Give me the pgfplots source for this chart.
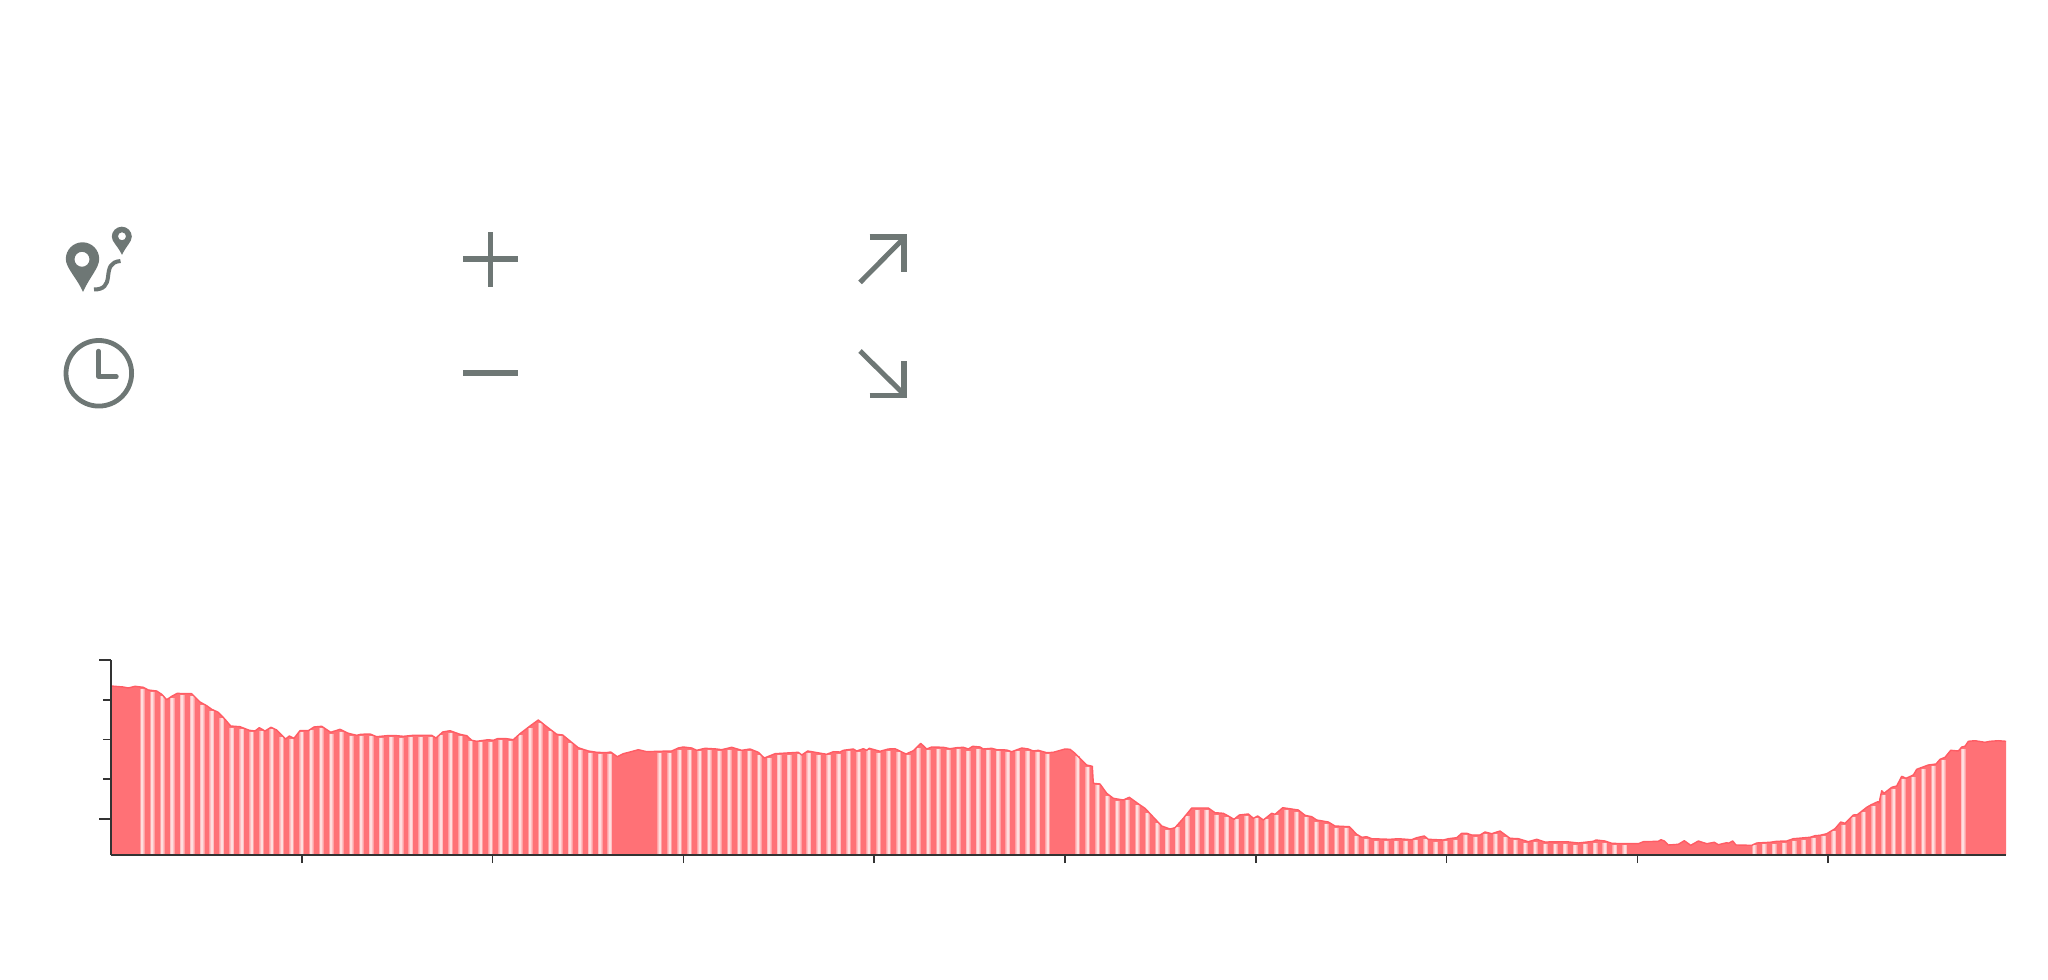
\documentclass[border=0pt]{standalone}
\usepackage{pgfplots}
\usepackage{pgfplotstable}
\pgfplotsset{compat=1.18}
\definecolor{areared}{HTML}{FF7176}
\definecolor{linered}{HTML}{FF5C64}
\definecolor{stripeout}{HTML}{FFA2A5}
\definecolor{stripemid}{HTML}{FFC0C2}
\definecolor{stripein}{HTML}{FFDEDE}
\definecolor{icongrey}{HTML}{6E7775}
\definecolor{axisdark}{HTML}{333333}
\pgfplotstableread{
x h
0 169
12.3 168
17.3 167
24 168.7
32.3 167.7
37.3 165
45.7 164
50.7 160.7
55.7 155.3
60.7 158.7
66.3 161.7
72.3 161.3
80.7 161.3
89 153
95.7 149.3
100.7 145.7
107.3 142.7
114 135.7
119.7 129
129 128.3
138.3 124.7
144 124
148.3 127.3
154 124
160 127.7
165.7 125
174.7 116
178.3 119
183 116.7
189 124.3
197.3 124.3
203 128
210.7 128.7
219.7 122.7
229 125.7
237.3 121.7
245.7 119.7
249.7 120.7
259 121
265.7 118.3
275.7 119.3
285.7 119.3
292.3 118.7
302.3 119.7
320.7 119.7
325 117
331.7 123
339 124.3
349 120.7
355.7 119.3
360.7 114.7
365.7 113.7
377.3 115.3
382.3 114.7
386.3 116.3
395.7 116.3
402.3 115.3
409 121.3
419 129
427.3 135
435.7 128.3
445.7 120.7
451.7 120
459 114
467.3 107.3
477.3 104
485.7 102.7
495 102.3
499.7 103
506.3 98.3
512.3 101.3
519 103
527.3 105.3
535.7 103.3
547.3 103.7
560.7 104
567.3 107
572.3 108
580.7 107
585.7 104.7
594 106.7
605.7 106
610.7 105.3
620.7 107.7
630.7 104.7
639 106
647.3 102.7
653.3 97
664 101.3
687.3 102.7
690.7 100
696.7 104
715.7 100.7
722.3 103.3
729 103
732.3 104.7
742.3 106
745.7 104
752.3 106.3
755.7 104.7
758.3 106.7
769 103.7
777.3 106
784 106.3
795 101
802.3 104.3
809.7 111.7
815.7 106
820.7 108
832.3 107.7
839 106.3
845.7 107.3
852.3 107.7
857.3 106
861.7 108.7
869 108
872.3 106
880.7 106.7
885.7 105.3
895.7 105
900.7 103.3
910.7 107
917.3 106
922.3 104
927.3 104.7
935.7 102.3
942.3 102.7
954 106
959 105.7
964 101.7
975.7 90
981.3 88.7
982.3 71.7
989 71
995.7 61.7
1002.3 56.7
1012.3 55
1018.3 57.7
1029 50
1034 46.7
1050.7 29
1059 26
1064 27.3
1072.3 36.7
1080.7 47
1097.3 47
1104 42.3
1112.3 41.7
1117.3 39
1123 35.7
1128.3 40
1137.3 41
1142.3 36.7
1146.7 39
1152.3 35
1160.7 41.7
1164 40.7
1171.7 47.3
1187.3 45
1194 39.7
1200.7 38.3
1205.7 35
1217.3 33
1224 29
1238.3 28.3
1245.7 20.7
1250.7 17.7
1255.7 18.3
1260.7 16.3
1279 15.7
1287.3 16.3
1300.7 15.3
1305.7 17.3
1313.3 19
1317.3 15.7
1332.3 15
1337.3 16.3
1345.7 17.3
1350.7 21.7
1355.7 21.7
1360.7 20
1369 20
1374 23
1380.7 21.3
1389 24
1399 16.7
1407.3 16.3
1417.3 13.3
1425.7 15.7
1434 13
1455.7 13.3
1467.3 12
1482.3 13.7
1485 15
1494 14
1500.7 11.7
1512.3 11.3
1527.3 11.3
1532.3 13.3
1547.3 13.7
1550 15.3
1553.3 14
1557.3 10
1567.3 10.7
1573.3 14.3
1579.7 9.7
1587.3 14
1595.7 11.3
1603.3 12.7
1607.3 10.3
1615.7 12.3
1617.3 11.7
1621.7 14
1625 10
1640.7 9.7
1645.7 12
1659 12.7
1665.7 13.7
1675.7 14
1682.3 16.3
1699 17.7
1704 19.3
1709 19.7
1715.7 21.3
1724 26.3
1729.7 33
1734 31.7
1742.3 40
1746.3 40.3
1755.7 47.7
1759.7 50
1766.7 53.3
1768 52
1770.7 64.3
1773 61.7
1780.7 67.7
1785.7 69
1790.7 78.7
1795 76.7
1802.3 80
1805.7 85.7
1817.3 90
1825 91
1829 95.7
1834 97.7
1839.7 104.7
1847.3 104
1850.7 108
1854 108.7
1857.3 113.7
1864 114.3
1874 112.7
1879 113.7
1887.3 114.3
1895 113.7
}\outline
\pgfplotstableread{
x h
31.3 165.5
41.25 162.5
51.2 158.5
61.15 157
71.1 159.5
81.05 159
91 150
100.95 143.5
110.9 137
120.85 127
130.8 125.5
140.75 122.5
150.7 124
160.65 125.5
170.6 118
180.55 116
190.5 122.5
200.45 124.5
210.4 126.5
220.35 121
230.3 123
240.25 119
250.2 119
260.15 118.5
270.1 117
280.05 117.5
290 117
299.95 117.5
309.9 117.5
319.85 117.5
329.8 119.5
339.75 122
349.7 118.5
359.65 113.5
369.6 112.5
379.55 113
389.5 114.5
399.45 113.5
409.4 119.5
419.35 127
429.3 131.5
439.25 123.5
449.2 118.5
459.15 112
469.1 104.5
479.05 101.5
489 100.5
498.95 100.5
548.7 102
558.65 102
568.6 105
578.55 105
588.5 103.5
598.45 104.5
608.4 103.5
618.35 105
628.3 103.5
638.25 104
648.2 100
658.15 97
668.1 99.5
678.05 100
688 100.5
697.95 102
707.9 100
717.85 99.5
727.8 101
737.75 103.5
747.7 103
757.65 104.5
767.6 102
777.55 104
787.5 102.5
797.45 100
807.4 107
817.35 104.5
827.3 106
837.25 105
847.2 105.5
857.15 104
867.1 106
877.05 104.5
887 103.5
896.95 102.5
906.9 103.5
916.85 104
926.8 102.5
936.75 100.5
966.6 98.5
976.55 88
986.5 69.5
996.45 59
1006.4 54
1016.35 55
1026.3 50
1036.25 42
1046.2 32
1056.15 25
1066.1 27.5
1076.05 39
1086 45
1095.95 45
1105.9 40
1115.85 38
1125.8 36
1135.75 39
1145.7 36.5
1155.65 35.5
1165.6 40
1175.55 44.5
1185.5 43
1195.45 37.5
1205.4 33
1215.35 31
1225.3 27
1235.25 26.5
1245.2 19
1255.15 16
1265.1 14
1275.05 14
1285 14
1294.95 13.5
1304.9 15
1314.85 15.5
1324.8 13
1334.75 13.5
1344.7 15
1354.65 19.5
1364.6 18
1374.55 20.5
1384.5 20.5
1394.45 18
1404.4 14.5
1414.35 12
1424.3 13
1434.25 11
1444.2 11
1454.15 11
1464.1 10
1474.05 10.5
1484 12
1493.95 12
1503.9 9.5
1513.85 9.5
1643.2 10
1653.15 10.5
1663.1 11
1673.05 12
1683 14
1692.95 15
1702.9 17
1712.85 18.5
1722.8 23.5
1732.75 30
1742.7 38
1752.65 43
1762.6 49
1772.55 60
1782.5 66
1792.45 76
1802.4 78
1812.35 86
1822.3 88.5
1832.25 95
1852.15 106
}\stripes
\begin{document}
\begin{tikzpicture}[x=1pt,y=1pt]
\useasboundingbox (0,0) rectangle (1024,489.5);
\begin{axis}[
  at={(55.5pt,62pt)},anchor=south west,
  scale only axis,width=947.5pt,height=97.5pt,
  xmin=0,xmax=1895,ymin=0,ymax=195,
  axis lines=left,axis line style={-,draw=axisdark,line width=0.95pt},
  axis on top,
  clip=false,
  xtick={190.8,381.6,572.4,763.2,954,1144.8,1335.6,1526.4,1717.2},
  ytick={75.75,115.5,155.25},
  extra y ticks={36,195},
  extra y tick labels={},
  extra y tick style={major tick length=6pt,tick style={draw=axisdark,line width=0.8pt}},
  xticklabels={},yticklabels={},
  tick align=outside,tick pos=lower,
  major tick length=4pt,
  tick style={draw=axisdark,line width=0.8pt},
]
\addplot[draw=none,fill=areared] table[x=x,y=h]{\outline} \closedcycle;
\addplot[ycomb,no marks,draw=stripeout,line width=2.5pt] table[x=x,y=h]{\stripes};
\addplot[ycomb,no marks,draw=stripemid,line width=1.7pt] table[x=x,y=h]{\stripes};
\addplot[ycomb,no marks,draw=stripein,line width=1pt] table[x=x,y=h]{\stripes};
\addplot[no marks,draw=linered,line width=0.7pt,line join=round] table[x=x,y=h]{\outline};
\end{axis}
\begin{scope}[x=0.5pt,y=-0.5pt,yshift=489.5pt,icongrey,line cap=butt]
  % large pin
  \fill[even odd rule] (83,292) .. controls (77,278) and (65.8,268) .. (65.8,259)
     arc[start angle=180,end angle=360,x radius=16.7,y radius=16.7]
     .. controls (99.2,268) and (89,278) .. cycle
     (89.5,259.3) arc[start angle=0,end angle=360,radius=7.5];
  % small pin
  \fill[even odd rule] (122,255) .. controls (118,246) and (111.8,242) .. (111.8,236.7)
     arc[start angle=180,end angle=360,x radius=10,y radius=10]
     .. controls (131.8,242) and (126,246) .. cycle
     (126,236.3) arc[start angle=0,end angle=360,radius=4];
  % route
  \draw[line width=2pt] (94,289.5) .. controls (104,289.5) and (107,285) .. (108,277)
     .. controls (109,268) and (110,262) .. (120.5,261);
  % clock
  \draw[line width=2.4pt] (98.8,373.3) circle[radius=32.8];
  \draw[line width=2.2pt,line cap=round,line join=round] (98.5,351) -- (98.5,376.7) -- (116.5,376.7);
  % plus, minus
  \draw[line width=2.8pt] (463,259.3) -- (517.6,259.3);
  \draw[line width=2.4pt] (490.6,232.3) -- (490.6,286.7);
  \draw[line width=2.8pt] (463,373) -- (517.6,373);
  % arrows
  \draw[line width=2.7pt] (869.5,237) -- (904,237) -- (904,271.7);
  \draw[line width=2.5pt] (860,282.5) -- (904,238);
  \draw[line width=2.7pt] (869.5,395.3) -- (904,395.3) -- (904,361);
  \draw[line width=2.5pt] (860,351) -- (904,394.3);
\end{scope}
\end{tikzpicture}
\end{document}
